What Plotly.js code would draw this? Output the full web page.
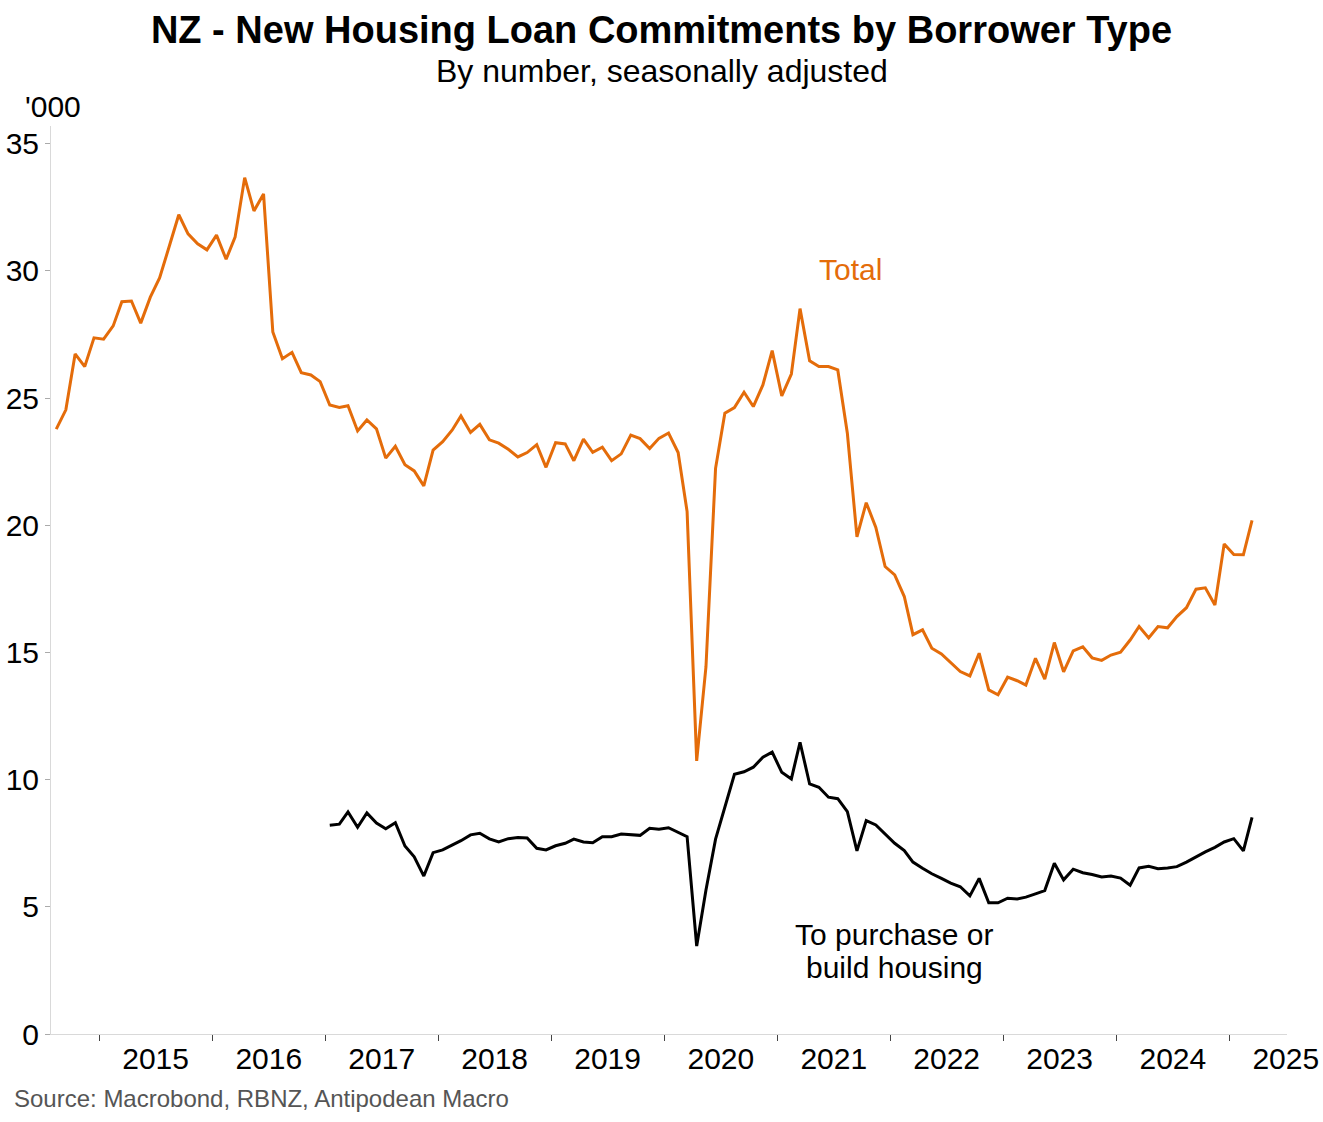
<!DOCTYPE html>
<html>
<head>
<meta charset="utf-8">
<script src="https://cdn.plot.ly/plotly-3.0.1.min.js"></script>
<style>html,body{margin:0;padding:0;background:#fff;}#chart{width:1323px;height:1122px;}</style>
</head>
<body>
<div id="chart"></div>
<script>
// Total: monthly, Aug 2014 - Mar 2025 ('000, s.a.)
const totalStart = [2014, 8];
const totalValues = [
  23.78, 24.54, 26.74, 26.24, 27.37,
  27.32, 27.84, 28.79, 28.82, 27.95, 28.97, 29.73, 30.96, 32.21, 31.46, 31.07, 30.83,
  31.41, 30.46, 31.33, 33.67, 32.36, 33.03, 27.60, 26.55, 26.80, 26.00, 25.91, 25.65,
  24.73, 24.63, 24.70, 23.71, 24.14, 23.79, 22.64, 23.11, 22.38, 22.14, 21.55, 22.96,
  23.29, 23.75, 24.30, 23.65, 23.97, 23.36, 23.23, 22.99, 22.69, 22.86, 23.17, 22.28,
  23.25, 23.20, 22.54, 23.39, 22.87, 23.07, 22.54, 22.81, 23.55, 23.41, 23.02, 23.42,
  23.63, 22.86, 20.54, 10.74, 14.44, 22.24, 24.41, 24.63, 25.23, 24.67, 25.52, 26.87,
  25.09, 25.95, 28.52, 26.47, 26.24, 26.24, 26.11, 23.62, 19.55, 20.89, 19.92, 18.38,
  18.05, 17.20, 15.70, 15.89, 15.17, 14.94, 14.60, 14.25, 14.08, 14.97, 13.53, 13.34,
  14.03, 13.89, 13.72, 14.77, 13.95, 15.39, 14.24, 15.06, 15.22, 14.79, 14.69, 14.90,
  15.01, 15.49, 16.02, 15.57, 16.02, 15.97, 16.41, 16.76, 17.49, 17.54, 16.87, 19.27,
  18.85, 18.84, 20.19
];
// To purchase or build housing: monthly, Jan 2017 - Mar 2025
const purchaseStart = [2017, 1];
const purchaseValues = [
  8.21, 8.25, 8.73, 8.13, 8.69, 8.29, 8.07, 8.31, 7.39, 6.97, 6.21, 7.13,
  7.24, 7.42, 7.60, 7.83, 7.89, 7.67, 7.55, 7.68, 7.73, 7.71, 7.30, 7.24,
  7.40, 7.50, 7.66, 7.55, 7.52, 7.76, 7.76, 7.86, 7.83, 7.81, 8.09, 8.05,
  8.11, 7.93, 7.76, 3.46, 5.66, 7.66, 8.94, 10.21, 10.31, 10.49, 10.88, 11.08,
  10.29, 10.03, 11.47, 9.83, 9.70, 9.31, 9.25, 8.74, 7.20, 8.39, 8.22, 7.86,
  7.50, 7.21, 6.76, 6.52, 6.30, 6.12, 5.93, 5.79, 5.43, 6.12, 5.16, 5.16,
  5.34, 5.31, 5.38, 5.51, 5.64, 6.71, 6.06, 6.48, 6.34, 6.27, 6.17, 6.21,
  6.13, 5.85, 6.53, 6.59, 6.50, 6.53, 6.58, 6.76, 6.97, 7.16, 7.34, 7.55,
  7.68, 7.20, 8.52
];
const yearLabels = ['2015','2016','2017','2018','2019','2020','2021','2022','2023','2024','2025'];
const yTicks = [0, 5, 10, 15, 20, 25, 30, 35];

function monthDates(start, n) {
  const out = [];
  let y = start[0], m = start[1];
  for (let i = 0; i < n; i++) {
    out.push(y + '-' + String(m).padStart(2, '0') + '-15');
    m++; if (m > 12) { m = 1; y++; }
  }
  return out;
}
const totalX = monthDates(totalStart, totalValues.length);
const purchaseX = monthDates(purchaseStart, purchaseValues.length);

const ORANGE = '#E46C0A';
const FONT = 'Liberation Sans, Arial, sans-serif';

const traces = [
  {x: totalX, y: totalValues, type: 'scatter', mode: 'lines', name: 'Total',
   line: {color: ORANGE, width: 3}, hoverinfo: 'x+y'},
  {x: purchaseX, y: purchaseValues, type: 'scatter', mode: 'lines', name: 'To purchase or build housing',
   line: {color: '#000000', width: 3}, hoverinfo: 'x+y'}
];

const layout = {
  width: 1323, height: 1122,
  margin: {l: 51, r: 36, t: 126, b: 88},
  paper_bgcolor: '#ffffff', plot_bgcolor: '#ffffff',
  showlegend: false,
  font: {family: FONT, color: '#000'},
  title: {text: '<b>NZ - New Housing Loan Commitments by Borrower Type</b>',
          font: {family: FONT, size: 38, color: '#000'},
          x: 0.5, xanchor: 'center', xref: 'container', y: 1 - 30/1122, yanchor: 'middle'},
  xaxis: {
    type: 'date',
    range: ['2014-07-29', '2025-07-06'],
    tickmode: 'array',
    tickvals: yearLabels.map(y => y + '-07-02'),
    ticktext: yearLabels,
    ticks: '',
    tickfont: {family: FONT, size: 30, color: '#000'},
    ticklabelstandoff: -2,
    showline: true, linecolor: '#d9d9d9', linewidth: 1,
    showgrid: false, zeroline: false,
    minor: {tickmode: 'array', tickvals: yearLabels.map(y => y + '-01-01'),
            ticks: 'outside', ticklen: 6, tickwidth: 1, tickcolor: '#444', showgrid: false}
  },
  yaxis: {
    range: [0, 35.7],
    tickmode: 'array', tickvals: yTicks, ticktext: yTicks.map(String),
    ticks: 'outside', ticklen: 5, tickwidth: 1, tickcolor: '#aaaaaa',
    tickfont: {family: FONT, size: 30, color: '#000'},
    showline: true, linecolor: '#d9d9d9', linewidth: 1,
    showgrid: false, zeroline: false
  },
  annotations: [
    {text: 'By number, seasonally adjusted', xref: 'paper', yref: 'paper',
     x: (661.5 - 51) / 1236, y: (1034 - 71) / 908, xanchor: 'center', yanchor: 'middle', showarrow: false,
     font: {family: FONT, size: 32, color: '#000'}},
    {text: "'000", xref: 'paper', yref: 'paper', x: (23 - 51) / 1236, y: (1034 - 106) / 908,
     xanchor: 'left', yanchor: 'middle', showarrow: false,
     font: {family: FONT, size: 30, color: '#000'}},
    {text: 'Total', xref: 'x', yref: 'y', x: '2021-08-26', y: 30.04,
     xanchor: 'center', yanchor: 'middle', showarrow: false,
     font: {family: FONT, size: 30, color: ORANGE}},
    {text: 'To purchase or', xref: 'x', yref: 'y', x: '2022-01-13', y: 3.93,
     xanchor: 'center', yanchor: 'middle', showarrow: false,
     font: {family: FONT, size: 30, color: '#000'}},
    {text: 'build housing', xref: 'x', yref: 'y', x: '2022-01-13', y: 2.60,
     xanchor: 'center', yanchor: 'middle', showarrow: false,
     font: {family: FONT, size: 30, color: '#000'}},
    {text: 'Source: Macrobond, RBNZ, Antipodean Macro', xref: 'paper', yref: 'paper',
     x: (12 - 51) / 1236, y: (1034 - 1098) / 908, xanchor: 'left', yanchor: 'middle', showarrow: false,
     font: {family: FONT, size: 24, color: '#555555'}}
  ]
};

Plotly.newPlot('chart', traces, layout, {displayModeBar: false, staticPlot: true});
</script>
</body>
</html>
